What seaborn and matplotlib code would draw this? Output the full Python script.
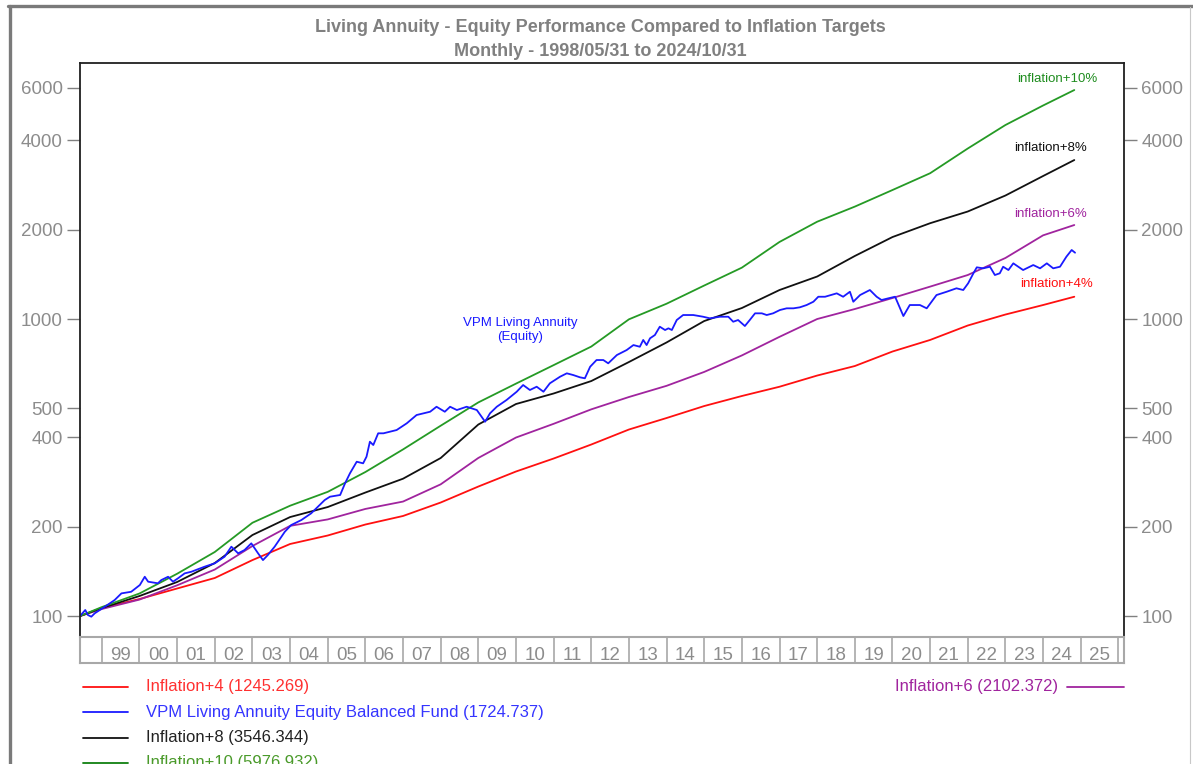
import numpy as np
import pandas as pd
import matplotlib
matplotlib.use("Agg")
import matplotlib.pyplot as plt
from matplotlib.lines import Line2D
from matplotlib.ticker import NullLocator
import seaborn as sns

# ------------------------------------------------------------
# data (index = 100 at 1998/05/31)
# ------------------------------------------------------------
infl_years = [1998.42, 1999, 2000, 2001, 2002, 2003, 2004, 2005, 2006, 2007,
              2008, 2009, 2010, 2011, 2012, 2013, 2014, 2015, 2016, 2017,
              2018, 2019, 2020, 2021, 2022, 2023, 2024, 2024.83]

infl_4 = [100, 106.4, 114.1, 123.8, 134.3, 154.3, 174.8, 186.7, 203.3, 217.2,
          241.1, 272.9, 306.6, 339.1, 378.0, 424.6, 464.2, 509.4, 550.6, 591.6,
          645.2, 694.6, 777.3, 850.2, 951.0, 1035.5, 1114.6, 1188.6]
infl_6 = [100, 105.6, 113.6, 126.9, 143.4, 172.1, 201.2, 211.5, 229.4, 242.9,
          277.6, 340.6, 399.0, 443.8, 496.5, 546.3, 595.8, 663.6, 754.1, 871.1,
          1000.0, 1080.6, 1176.7, 1285.6, 1406.6, 1605.1, 1913.0, 2072.6]
infl_8 = [100, 106.4, 116.8, 130.2, 150.8, 187.4, 215.4, 232.8, 260.5, 290.0,
          340.4, 441.4, 517.4, 561.4, 618.3, 716.5, 833.9, 984.6, 1089.0, 1252.2,
          1390.3, 1630.2, 1888.0, 2101.7, 2301.4, 2605.0, 3030.0, 3430.2]
infl_10 = [100, 107.2, 119.1, 138.8, 164.3, 206.1, 235.2, 261.9, 305.4, 363.9,
           437.3, 523.9, 606.0, 699.5, 807.8, 997.7, 1126.0, 1296.6, 1489.3, 1817.7,
           2126.3, 2390.4, 2718.4, 3096.5, 3750.7, 4499.7, 5234.5, 5902.4]

fund_years = [1998.42, 1998.56, 1998.63, 1998.72, 1998.81, 1999.08, 1999.34, 1999.52, 1999.78,
              2000.01, 2000.14, 2000.23, 2000.49, 2000.58, 2000.76, 2000.89,
              2001.02, 2001.20, 2001.38, 2001.73,
              2002.00, 2002.26, 2002.44, 2002.62, 2002.79, 2002.97,
              2003.15, 2003.28, 2003.41, 2003.59, 2003.86,
              2004.03, 2004.30, 2004.56, 2004.74, 2004.92,
              2005.06, 2005.33, 2005.46, 2005.59, 2005.77, 2005.94,
              2006.03, 2006.12, 2006.21, 2006.34, 2006.48, 2006.83,
              2007.10, 2007.36, 2007.72, 2007.89,
              2008.11, 2008.25, 2008.43, 2008.69, 2008.96,
              2009.18, 2009.31, 2009.49, 2009.75,
              2010.02, 2010.19, 2010.37, 2010.55, 2010.73, 2010.90,
              2011.17, 2011.35, 2011.52, 2011.70, 2011.83, 2011.97,
              2012.14, 2012.32, 2012.45, 2012.68, 2012.94,
              2013.12, 2013.29, 2013.38, 2013.47, 2013.56, 2013.69, 2013.82, 2013.96,
              2014.05, 2014.14, 2014.27, 2014.44, 2014.71, 2014.97,
              2015.15, 2015.42, 2015.64, 2015.77, 2015.90,
              2016.08, 2016.21, 2016.35, 2016.53, 2016.66, 2016.83,
              2017.01, 2017.19, 2017.37, 2017.54, 2017.72, 2017.90,
              2018.03, 2018.21, 2018.52, 2018.69, 2018.87, 2018.96,
              2019.14, 2019.40, 2019.58, 2019.71, 2019.89,
              2020.07, 2020.29, 2020.46, 2020.73, 2020.91,
              2021.17, 2021.44, 2021.70, 2021.88,
              2022.01, 2022.15, 2022.24, 2022.41, 2022.59, 2022.72, 2022.85, 2022.94,
              2023.08, 2023.21, 2023.47, 2023.74, 2023.92,
              2024.10, 2024.27, 2024.45, 2024.62, 2024.76, 2024.85]

fund_vals = [100, 104.8, 100.8, 99.5, 102.1, 107.5, 113.2, 119.2, 120.7,
             127.2, 135.6, 130.5, 128.9, 132.2, 135.6, 130.5,
             133.9, 139.2, 141.0, 146.6,
             150.5, 158.4, 171.2, 162.6, 166.8, 175.7,
             162.6, 154.3, 160.5, 171.2, 192.2,
             202.5, 210.5, 221.7, 233.3, 245.8,
             252.2, 255.6, 279.8, 302.3, 330.8, 326.7,
             343.9, 386.3, 376.5, 412.3, 412.3, 422.9,
             445.6, 475.1, 487.4, 506.6,
             487.4, 506.6, 493.9, 506.6, 493.9,
             451.1, 481.4, 506.6, 533.8,
             569.2, 599.5, 576.8, 591.7, 569.2, 607.5,
             639.3, 656.4, 647.8, 636.4, 631.6, 690.8,
             727.7, 727.7, 709.3, 756.4, 786.2,
             817.3, 806.6, 850.2, 817.3, 861.0, 883.4, 942.1, 918.3,
             930.5, 918.3, 992.3, 1031.5, 1031.5, 1018.0,
             1005.5, 1018.0, 1018.0, 979.3, 992.3,
             947.3, 992.3, 1045.2, 1045.2, 1031.5, 1045.2,
             1072.3, 1086.5, 1086.5, 1095.0, 1114.6, 1143.5,
             1188.6, 1188.6, 1220.3, 1188.6, 1235.6, 1143.5,
             1204.4, 1252.2, 1188.6, 1158.7, 1174.1,
             1188.6, 1023.5, 1114.6, 1114.6, 1086.5,
             1204.4, 1235.6, 1269.0, 1252.2,
             1318.9, 1425.3, 1493.0, 1481.5, 1499.9, 1406.6, 1425.3, 1499.9,
             1462.1, 1540.0, 1462.1, 1519.8, 1481.5,
             1540.0, 1481.5, 1499.9, 1621.3, 1707.7, 1672.3]

y_ticks = [100, 200, 400, 500, 1000, 2000, 4000, 6000]
year_edges = list(range(1999, 2027))
year_labels = ['99', '00', '01', '02', '03', '04', '05', '06', '07', '08', '09',
               '10', '11', '12', '13', '14', '15', '16', '17', '18', '19', '20',
               '21', '22', '23', '24', '25']

legend_left = ['Inflation+4 (1245.269)',
               'VPM Living Annuity Equity Balanced Fund (1724.737)',
               'Inflation+8 (3546.344)',
               'Inflation+10 (5976.932)']
legend_right = 'Inflation+6 (2102.372)'

colors = {'Inflation+4': '#ff1010', 'Inflation+6': '#a0249e',
          'Inflation+8': '#111111', 'Inflation+10': '#259a25',
          'VPM': '#1a1aff'}

# ------------------------------------------------------------
# long-form table for seaborn
# ------------------------------------------------------------
parts = []
for name, vals in [('Inflation+4', infl_4), ('Inflation+6', infl_6),
                   ('Inflation+8', infl_8), ('Inflation+10', infl_10)]:
    parts.append(pd.DataFrame({'year': infl_years, 'value': vals, 'series': name}))
parts.append(pd.DataFrame({'year': fund_years, 'value': fund_vals, 'series': 'VPM'}))
df = pd.concat(parts, ignore_index=True)

sns.set_style("white")
plt.rcParams['font.family'] = ['Liberation Sans', 'DejaVu Sans']

W, H = 1193, 764
fig = plt.figure(figsize=(W / 100, H / 100), dpi=100)


def px_box(x0, y0, x1, y1):
    return [x0 / W, 1 - y1 / H, (x1 - x0) / W, (y1 - y0) / H]


ax = fig.add_axes(px_box(80, 63, 1124, 637))
sns.lineplot(data=df, x='year', y='value', hue='series',
             hue_order=['Inflation+4', 'Inflation+6', 'Inflation+8', 'Inflation+10', 'VPM'],
             palette=colors, estimator=None, sort=False, legend=False,
             linewidth=1.3, ax=ax)
ax.set_yscale('log')
ax.set_xlim(1998.42, 2026.15)
ax.set_ylim(85.0, 7278)
ax.set_yticks(y_ticks)
ax.set_yticklabels([str(v) for v in y_ticks])
ax.yaxis.set_minor_locator(NullLocator())
ax.set_xticks([])
ax.set_xlabel('')
ax.set_ylabel('')
ax.tick_params(axis='y', direction='out', length=9.5, width=1, color='#808080',
               labelcolor='#8c8c8c', labelsize=13.5, pad=3,
               left=True, right=True, labelleft=True, labelright=True)
for sp in ax.spines.values():
    sp.set_color('#202020')
    sp.set_linewidth(1.3)

# in-plot series labels
lab_kw = dict(transform=ax.transAxes, ha='center', va='center', fontsize=9.5)
ax.text(0.936, 0.972, 'inflation+10%', color='#1e8c1e', **lab_kw)
ax.text(0.930, 0.852, 'inflation+8%', color='#111111', **lab_kw)
ax.text(0.930, 0.737, 'inflation+6%', color='#a0249e', **lab_kw)
ax.text(0.935, 0.615, 'inflation+4%', color='#ff1010', **lab_kw)
ax.text(0.4215, 0.535, 'VPM Living Annuity\n(Equity)', color='#1a1aff',
        linespacing=1.25, **lab_kw)

# year strip under the plot
band = fig.add_axes(px_box(80, 637, 1124, 663))
band.set_xlim(ax.get_xlim())
band.set_ylim(0, 1)
for yr in year_edges:
    band.axvline(yr, color='#a8a8a8', lw=1.2)
for yr, lab in zip(year_edges, year_labels):
    band.text(yr + 0.5, 0.27, lab, ha='center', va='center',
              color='#8c8c8c', fontsize=13.5)
band.set_xticks([])
band.set_yticks([])
for sp in band.spines.values():
    sp.set_color('#a8a8a8')
    sp.set_linewidth(1.5)

# title
fig.text(600 / W, 1 - 28 / H, 'Living Annuity - Equity Performance Compared to Inflation Targets',
         ha='center', va='center', color='#808080', fontsize=13, fontweight='bold')
fig.text(600 / W, 1 - 52 / H, 'Monthly - 1998/05/31 to 2024/10/31',
         ha='center', va='center', color='#808080', fontsize=13, fontweight='bold')

# legend below
leg_cols = ['#ff1010', '#1a1aff', '#111111', '#108010']
txt_cols = ['#ff3030', '#3535ff', '#222222', '#4a9a2a']
for i, (lab, lc, tc) in enumerate(zip(legend_left, leg_cols, txt_cols)):
    yl = 1 - (687 + 25.3 * i) / H
    yt = 1 - (687 + 25.3 * i) / H
    fig.add_artist(Line2D([83 / W, 128 / W], [yl, yl], color=lc, lw=1.3))
    fig.text(146 / W, yt, lab, ha='left', va='center', color=tc, fontsize=12)
fig.add_artist(Line2D([1067 / W, 1124 / W], [1 - 687 / H, 1 - 687 / H],
                      color='#a0249e', lw=1.3))
fig.text(1058 / W, 1 - 687 / H, legend_right, ha='right', va='center',
         color='#a0249e', fontsize=12)

# outer frame
fig.add_artist(Line2D([8 / W, 1.0], [1 - 6 / H, 1 - 6 / H], color='#7a7a7a', lw=2.4))
fig.add_artist(Line2D([9.5 / W, 9.5 / W], [0, 1 - 6 / H], color='#7a7a7a', lw=2.4))
fig.add_artist(Line2D([1190 / W, 1190 / W], [0, 1 - 7 / H], color='#c8c8c8', lw=0.8))

fig.savefig('out.png', dpi=100)
